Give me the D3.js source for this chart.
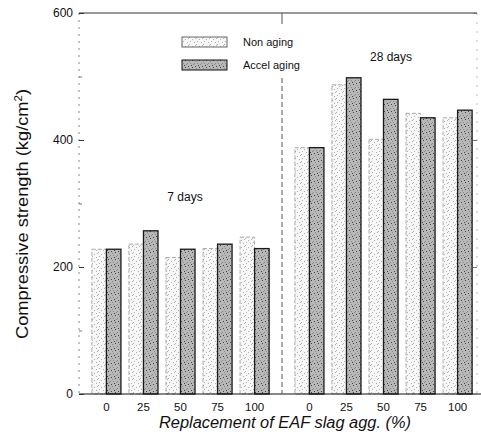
<!DOCTYPE html>
<html>
<head>
<meta charset="utf-8">
<script src="https://cdn.jsdelivr.net/npm/d3@7"></script>
<style>
  body { margin: 0; background: #fff; }
  text { font-family: "Liberation Sans", Arial, sans-serif; fill: #111; }
</style>
</head>
<body>
<svg width="481" height="441"></svg>
<script>
// data
var replacement = ['0', '25', '50', '75', '100'];
var ages = ['7 days', '28 days'];
var series = ['Non aging', 'Accel aging'];
var nonAging7 = [228, 236, 215, 229, 247];
var accelAging7 = [228, 257, 228, 236, 229];
var nonAging28 = [388, 487, 401, 442, 435];
var accelAging28 = [388, 498, 464, 435, 447];
var yTicks = [0, 200, 400, 600];
var yMinor = [100, 300, 500];

var values = {
    '7 days': { 'Non aging': nonAging7, 'Accel aging': accelAging7 },
    '28 days': { 'Non aging': nonAging28, 'Accel aging': accelAging28 }
};

var rows = [];
ages.forEach(function(a) {
    series.forEach(function(s) {
        replacement.forEach(function(r, i) {
            rows.push({ age: a, series: s, rep: r, value: values[a][s][i] });
        });
    });
});

var svg = d3.select('svg');
var plotL = 79, plotR = 477, plotT = 13, plotB = 394;

var panel = d3.scaleBand().domain(ages).range([plotL, 485]);
var x = d3.scaleBand().domain(replacement)
    .range([0, panel.bandwidth()])
    .paddingInner(0).paddingOuter(0.24);
var inner = d3.scaleBand().domain(series)
    .range([0, x.bandwidth()])
    .paddingInner(0).paddingOuter(0.275);
var y = d3.scaleLinear().domain([0, 600]).range([plotB, plotT]);

// stipple patterns (scanned-print look)
var defs = svg.append('defs');
var pl = defs.append('pattern').attr('id', 'light')
    .attr('width', 7).attr('height', 7).attr('patternUnits', 'userSpaceOnUse');
pl.append('rect').attr('width', 7).attr('height', 7).attr('fill', '#f7f7f7');
[[0, 0], [3, 2], [5, 5], [1, 4], [6, 1]].forEach(function(p) {
    pl.append('rect').attr('x', p[0]).attr('y', p[1]).attr('width', 1).attr('height', 1).attr('fill', '#b0b0b0');
});
var pd = defs.append('pattern').attr('id', 'dark')
    .attr('width', 7).attr('height', 7).attr('patternUnits', 'userSpaceOnUse');
pd.append('rect').attr('width', 7).attr('height', 7).attr('fill', '#b8b8b8');
[[0, 1], [3, 0], [5, 3], [2, 5], [1, 3], [6, 6], [4, 4]].forEach(function(p, i) {
    pd.append('rect').attr('x', p[0]).attr('y', p[1]).attr('width', 1).attr('height', 1)
        .attr('fill', i % 2 ? '#444' : '#8a8a8a');
});

// bars
svg.append('g').selectAll('rect')
    .data(rows)
    .enter().append('rect')
    .attr('x', function(d) { return panel(d.age) + x(d.rep) + inner(d.series); })
    .attr('y', function(d) { return y(d.value); })
    .attr('width', inner.bandwidth())
    .attr('height', function(d) { return y(0) - y(d.value); })
    .attr('fill', function(d) { return d.series === 'Non aging' ? 'url(#light)' : 'url(#dark)'; })
    .attr('stroke', function(d) { return d.series === 'Non aging' ? '#999' : '#1a1a1a'; })
    .attr('stroke-width', function(d) { return d.series === 'Non aging' ? 0.8 : 1.3; })
    .attr('stroke-dasharray', function(d) { return d.series === 'Non aging' ? '4,2' : null; });

// frame
var frame = svg.append('g').attr('fill', 'none');
frame.append('line').attr('x1', plotL).attr('x2', plotR).attr('y1', plotT).attr('y2', plotT)
    .attr('stroke', '#333').attr('stroke-width', 1);
frame.append('line').attr('x1', plotL).attr('x2', 481).attr('y1', plotB).attr('y2', plotB)
    .attr('stroke', '#111').attr('stroke-width', 1.2);
frame.append('line').attr('x1', plotL).attr('x2', plotL).attr('y1', plotT).attr('y2', plotB)
    .attr('stroke', '#888').attr('stroke-dasharray', '2,5');
frame.append('line').attr('x1', plotR).attr('x2', plotR).attr('y1', plotT).attr('y2', plotB)
    .attr('stroke', '#bbb').attr('stroke-dasharray', '2,7');
var mid = panel('28 days');
frame.append('line').attr('x1', mid).attr('x2', mid).attr('y1', plotT).attr('y2', plotT + 11)
    .attr('stroke', '#555');
frame.append('line').attr('x1', mid).attr('x2', mid).attr('y1', 78).attr('y2', plotB)
    .attr('stroke', '#555').attr('stroke-dasharray', '5,3');

// y axis
svg.append('g').attr('transform', 'translate(' + plotL + ',0)')
    .call(d3.axisRight(y).tickValues(yTicks).tickSize(5).tickFormat(''))
    .call(function(g) { g.select('.domain').remove(); g.selectAll('line').attr('stroke', '#333'); });
svg.append('g').attr('transform', 'translate(' + plotL + ',0)')
    .call(d3.axisRight(y).tickValues(yMinor).tickSize(3).tickFormat(''))
    .call(function(g) { g.select('.domain').remove(); g.selectAll('line').attr('stroke', '#777'); });
svg.append('g').attr('transform', 'translate(' + plotR + ',0)')
    .call(d3.axisLeft(y).tickValues(yTicks).tickSize(4).tickFormat(''))
    .call(function(g) { g.select('.domain').remove(); g.selectAll('line').attr('stroke', '#777'); });

svg.append('g').selectAll('text')
    .data(yTicks)
    .enter().append('text')
    .attr('x', plotL - 6)
    .attr('y', function(d) { return y(d); })
    .attr('dy', '0.35em')
    .attr('text-anchor', 'end')
    .style('font-size', '12px')
    .text(function(d) { return d; });

// x tick labels
ages.forEach(function(a) {
    svg.append('g').selectAll('text')
        .data(replacement)
        .enter().append('text')
        .attr('x', function(d) { return panel(a) + x(d) + x.bandwidth() / 2; })
        .attr('y', 411)
        .attr('text-anchor', 'middle')
        .style('font-size', '11.5px')
        .text(function(d) { return d; });
});

// panel labels
svg.append('text').attr('x', 185).attr('y', 201).attr('text-anchor', 'middle')
    .style('font-size', '12px').text('7 days');
svg.append('text').attr('x', 391).attr('y', 61).attr('text-anchor', 'middle')
    .style('font-size', '12px').text('28 days');

// legend
var legend = svg.append('g').selectAll('g')
    .data(series)
    .enter().append('g')
    .attr('transform', function(d, i) { return 'translate(182,' + (37 + i * 23) + ')'; });
legend.append('rect')
    .attr('width', 45).attr('height', 10)
    .attr('fill', function(d) { return d === 'Non aging' ? 'url(#light)' : 'url(#dark)'; })
    .attr('stroke', function(d) { return d === 'Non aging' ? '#666' : '#111'; })
    .attr('stroke-width', 1);
legend.append('text')
    .attr('x', 61).attr('y', 5).attr('dy', '0.35em')
    .style('font-size', '11px')
    .text(function(d) { return d; });

// axis titles
svg.append('text')
    .attr('x', 285).attr('y', 428)
    .attr('text-anchor', 'middle')
    .style('font-size', '16px').style('font-style', 'italic')
    .attr('textLength', 252).attr('lengthAdjust', 'spacingAndGlyphs')
    .text('Replacement of EAF slag agg. (%)');

var yt = svg.append('text')
    .attr('transform', 'translate(28,214) rotate(-90)')
    .attr('text-anchor', 'middle')
    .style('font-size', '16px')
    .attr('textLength', 250).attr('lengthAdjust', 'spacingAndGlyphs');
yt.append('tspan').text('Compressive strength (kg/cm');
yt.append('tspan').attr('dy', -6).style('font-size', '10px').text('2');
yt.append('tspan').attr('dy', 6).text(')');
</script>
</body>
</html>
